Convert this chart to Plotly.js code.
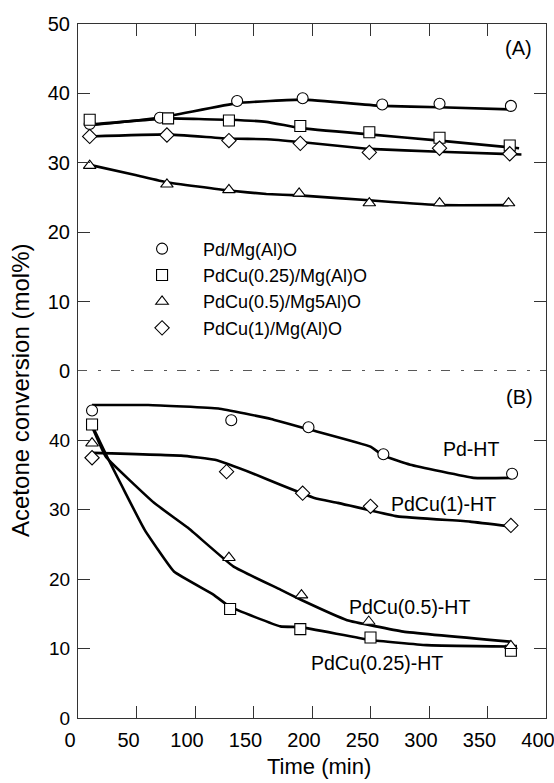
<!DOCTYPE html>
<html>
<head>
<meta charset="utf-8">
<script src="https://cdn.plot.ly/plotly-3.0.1.min.js"></script>
<style>html,body{margin:0;padding:0;background:#fff;}#chart{width:554px;height:783px;}</style>
</head>
<body>
<div id="chart"></div>
<script>
// ---------- Panel (A): Mg(Al)O supported catalysts ----------
const aNames = ['Pd/Mg(Al)O', 'PdCu(0.25)/Mg(Al)O', 'PdCu(0.5)/Mg5Al)O', 'PdCu(1)/Mg(Al)O'];
const aSymbols = ['circle', 'square', 'triangle-up', 'diamond'];

const aPdT   = [10, 70, 136, 192, 260, 309, 370];
const aPdY   = [35.6, 36.5, 38.9, 39.3, 38.4, 38.5, 38.2];
const aPdFitT = [10, 70, 136, 192, 260, 309, 370];
const aPdFitY = [35.4, 36.5, 38.6, 39.1, 38.2, 38.0, 37.7];

const aCu025T = [10, 77, 129, 190, 249, 309, 369];
const aCu025Y = [36.2, 36.4, 36.1, 35.3, 34.4, 33.6, 32.5];
const aCu025FitT = [10, 77, 129, 161, 190, 249, 309, 377];
const aCu025FitY = [35.5, 36.4, 36.2, 35.9, 35.0, 34.1, 33.2, 32.1];

const aCu05T = [10, 76, 129, 189, 249, 309, 368];
const aCu05Y = [29.6, 26.9, 26.1, 25.6, 24.2, 24.2, 24.2];
const aCu05FitT = [10, 50, 76, 129, 161, 189, 249, 309, 368];
const aCu05FitY = [29.7, 28.2, 27.2, 26.0, 25.5, 25.3, 24.6, 23.9, 23.9];

const aCu1T = [10, 76, 129, 190, 249, 309, 369];
const aCu1Y = [33.8, 34.0, 33.2, 32.8, 31.5, 32.1, 31.3];
const aCu1FitT = [10, 76, 129, 161, 190, 249, 309, 379];
const aCu1FitY = [33.8, 34.1, 33.5, 33.4, 33.0, 32.0, 31.6, 31.2];

// ---------- Panel (B): hydrotalcite (HT) derived catalysts ----------
const bNames = ['Pd-HT', 'PdCu(0.25)-HT', 'PdCu(0.5)-HT', 'PdCu(1)-HT'];

const bPdT = [12, 131, 197, 261, 371];
const bPdY = [44.3, 42.9, 41.9, 38.0, 35.2];
const bPdFitT = [12, 60, 120, 165, 197, 250, 261, 284, 338, 371];
const bPdFitY = [45.1, 45.1, 44.6, 43.1, 41.6, 39.1, 37.8, 36.5, 34.6, 34.6];

const bCu025T = [12, 130, 190, 250, 370];
const bCu025Y = [42.3, 15.7, 12.8, 11.6, 9.7];
const bCu025FitT = [12.5, 25, 57, 82, 116, 130, 173, 190, 250, 298, 370];
const bCu025FitY = [42.0, 37.6, 27.1, 21.1, 17.75, 16.0, 13.2, 13.1, 11.25, 10.5, 10.3];

const bCu05T = [12, 129, 191, 248.5, 370];
const bCu05Y = [39.6, 23.1, 17.7, 13.9, 10.4];
const bCu05FitT = [12.5, 24, 65, 94, 133, 173, 191, 230, 278, 370];
const bCu05FitY = [41.8, 37.6, 31.0, 27.4, 21.8, 18.5, 17.0, 14.1, 12.45, 11.0];

const bCu1T = [12, 127, 192, 250, 370];
const bCu1Y = [37.5, 35.5, 32.4, 30.5, 27.75];
const bCu1FitT = [12, 88, 117, 150, 173, 202, 222, 273, 335, 370];
const bCu1FitY = [38.2, 37.8, 37.2, 35.2, 33.6, 31.7, 31.0, 29.05, 28.3, 27.6];

// tick labels
const xTicks = [0, 50, 100, 150, 200, 250, 300, 350, 400];
const yTicksA = [0, 10, 20, 30, 40, 50];
const yTextA = ['0', '10', '20', '30', '40', '50'];
const yTicksB = [0, 10, 20, 30, 40, 50];
const yTextB = ['0', '10', '20', '30', '40', ''];

// ---------- build traces ----------
const FONT = 'Liberation Sans, Arial, sans-serif';
const LINE_W = 2.6;
const traces = [];

function fitLine(t, y, xa, ya) {
  return {x: t, y: y, xaxis: xa, yaxis: ya, mode: 'lines', type: 'scatter',
          line: {color: '#000', width: LINE_W, shape: 'spline', smoothing: 0.3},
          showlegend: false, hoverinfo: 'skip'};
}
function pts(t, y, xa, ya, sym, name, legend) {
  return {x: t, y: y, xaxis: xa, yaxis: ya, mode: 'markers', type: 'scatter', name: name,
          legendgroup: name, showlegend: legend, cliponaxis: false,
          marker: {symbol: sym, size: 11, color: '#fff',
                   line: {color: '#000', width: 1.1}}};
}

// Panel A
const aFits = [[aPdFitT, aPdFitY], [aCu025FitT, aCu025FitY], [aCu05FitT, aCu05FitY], [aCu1FitT, aCu1FitY]];
const aPts = [[aPdT, aPdY], [aCu025T, aCu025Y], [aCu05T, aCu05Y], [aCu1T, aCu1Y]];
aFits.forEach(f => traces.push(fitLine(f[0], f[1], 'x2', 'y2')));
aPts.forEach((p, i) => traces.push(pts(p[0], p[1], 'x2', 'y2', aSymbols[i], aNames[i], true)));

// Panel B
const bFits = [[bPdFitT, bPdFitY], [bCu025FitT, bCu025FitY], [bCu05FitT, bCu05FitY], [bCu1FitT, bCu1FitY]];
const bPts = [[bPdT, bPdY], [bCu025T, bCu025Y], [bCu05T, bCu05Y], [bCu1T, bCu1Y]];
bFits.forEach(f => traces.push(fitLine(f[0], f[1], 'x', 'y')));
bPts.forEach((p, i) => traces.push(pts(p[0], p[1], 'x', 'y', aSymbols[i], bNames[i], false)));

const axisCommon = {
  showgrid: false, zeroline: false, showline: true, linecolor: '#333', linewidth: 1,
  ticks: 'inside', ticklen: 12, tickwidth: 1, tickcolor: '#333',
  tickfont: {family: FONT, size: 20, color: '#000'}
};

const layout = {
  width: 554, height: 783,
  margin: {l: 78, r: 8, t: 24, b: 65},
  paper_bgcolor: '#fff', plot_bgcolor: '#fff',
  font: {family: FONT, color: '#000'},
  showlegend: true,
  legend: {x: 0.092, y: 0.7025, xanchor: 'left', yanchor: 'top',
           bgcolor: 'rgba(0,0,0,0)', borderwidth: 0, itemwidth: 72,
           font: {family: FONT, size: 18, color: '#000'},
           traceorder: 'normal', tracegroupgap: 0},
  xaxis: Object.assign({}, axisCommon, {
    anchor: 'y', domain: [0, 1], range: [0, 400], tickvals: xTicks,
    ticklabelshift: -8, ticklabelstandoff: 4, ticklabeloverflow: 'allow'
  }),
  xaxis2: Object.assign({}, axisCommon, {
    anchor: 'y2', side: 'top', domain: [0, 1], range: [0, 400], tickvals: xTicks,
    showticklabels: false, matches: 'x'
  }),
  yaxis: Object.assign({}, axisCommon, {
    anchor: 'x', domain: [0, 0.5], range: [0, 50], tickvals: yTicksB, ticktext: yTextB,
    mirror: 'ticks', ticklabelstandoff: 3, tickfont: {family: FONT, size: 19, color: '#000'}
  }),
  yaxis2: Object.assign({}, axisCommon, {
    anchor: 'x2', domain: [0.5, 1], range: [0, 50], tickvals: yTicksA, ticktext: yTextA,
    mirror: 'ticks', ticklabelstandoff: 3
  }),
  shapes: [
    {type: 'line', xref: 'paper', x0: 0, x1: 1, yref: 'y2', y0: 0, y1: 0,
     line: {color: '#222', width: 1.4, dash: '9px,11px,3px,10px'}}
  ],
  annotations: [
    {text: 'Time (min)', xref: 'paper', yref: 'paper', x: 0.515, y: -0.0706,
     xanchor: 'center', yanchor: 'middle', showarrow: false, font: {family: FONT, size: 22}},
    {text: 'Acetone conversion (mol%)', xref: 'paper', yref: 'paper', x: -0.124, y: 0.4726,
     xanchor: 'center', yanchor: 'middle', textangle: -90, showarrow: false,
     font: {family: FONT, size: 24}},
    {text: '(A)', xref: 'x2', yref: 'y2', x: 376.5, y: 46.5, showarrow: false,
     font: {family: FONT, size: 20}},
    {text: '(B)', xref: 'x', yref: 'y', x: 377.5, y: 46.2, showarrow: false,
     font: {family: FONT, size: 20}},
    {text: bNames[0], xref: 'x', yref: 'y', x: 335.6, y: 38.7, showarrow: false,
     font: {family: FONT, size: 19.5}},
    {text: bNames[3], xref: 'x', yref: 'y', x: 312.6, y: 30.8, showarrow: false,
     font: {family: FONT, size: 19.5}},
    {text: bNames[2], xref: 'x', yref: 'y', x: 283, y: 16.0, showarrow: false,
     font: {family: FONT, size: 19.5}},
    {text: bNames[1], xref: 'x', yref: 'y', x: 255.8, y: 7.9, showarrow: false,
     font: {family: FONT, size: 19.5}}
  ]
};

Plotly.newPlot('chart', traces, layout, {displayModeBar: false, staticPlot: true});
</script>
</body>
</html>
